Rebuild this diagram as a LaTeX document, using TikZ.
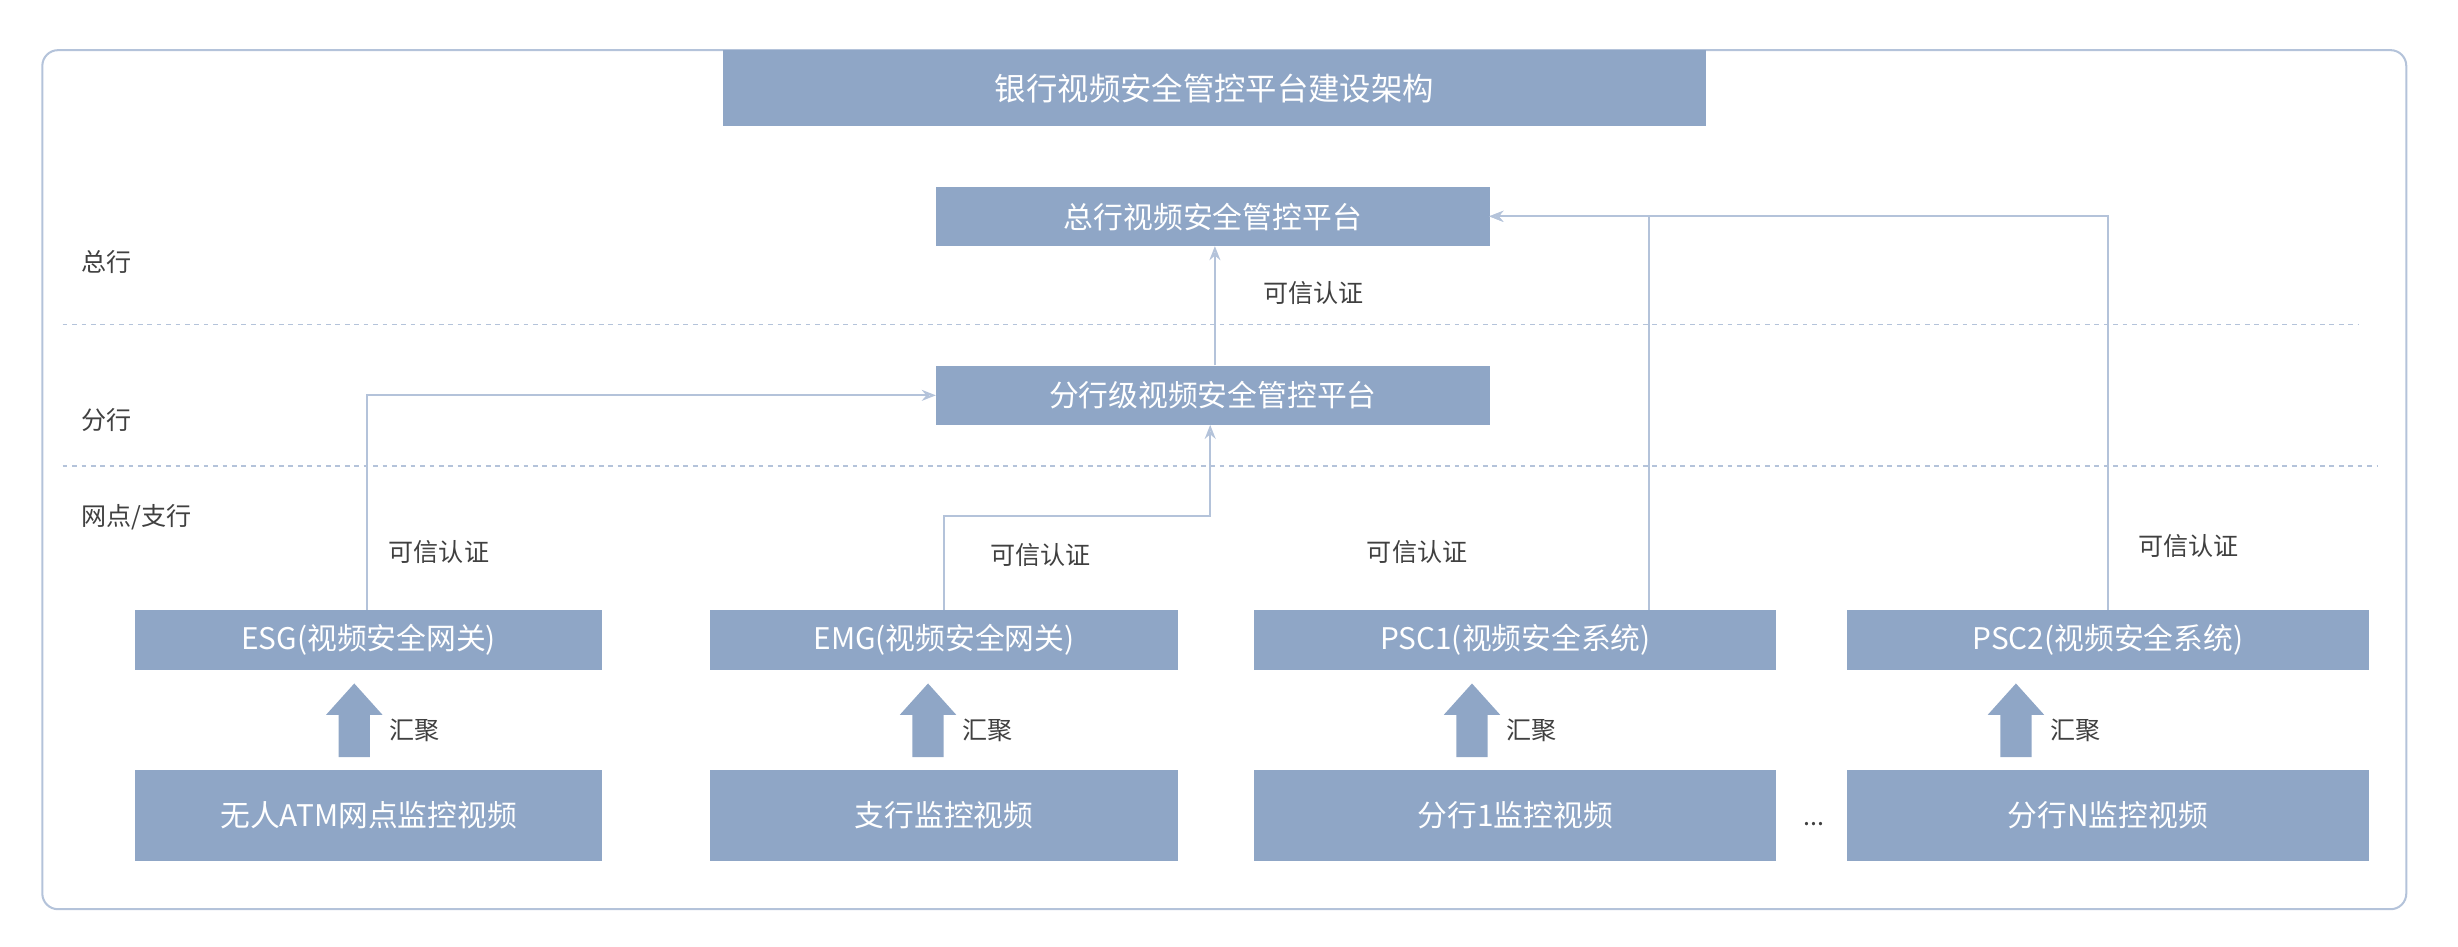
\documentclass[tikz,border=0pt]{standalone}
\usepackage{fontspec}
\setmainfont{Noto Sans CJK SC}
\usetikzlibrary{arrows.meta}
\definecolor{boxc}{HTML}{8FA6C6}
\definecolor{linec}{HTML}{B4C3DA}
\definecolor{txt}{HTML}{404040}
\tikzset{
 bx/.style={fill=boxc,draw=none,text=white,font=\fontsize{19}{19}\selectfont,inner sep=0},
 lbl/.style={text=txt,font=\fontsize{16}{16}\selectfont,inner sep=0},
 conn/.style={draw=linec,line width=1.3pt,-{Stealth[length=9pt,width=7pt,open]}},
 fat/.style={fill=boxc,draw=none}
}
\newcommand{\bxat}[4]{\node[bx,minimum width=#3,minimum height=#4,anchor=north west] (#1) at (#2) {};}
\begin{document}
\begin{tikzpicture}[x=1pt,y=-1pt]
\useasboundingbox (0,0) rectangle (1568,604);
\draw[linec,line width=1.3pt,rounded corners=10pt] (27,32) rectangle (1535,580);
\node[bx,minimum width=627,minimum height=48,anchor=north west,font=\fontsize{20}{20}\selectfont] (title) at (461,32) {银行视频安全管控平台建设架构};
\node[bx,minimum width=353,minimum height=38,anchor=north west] (hq) at (597,119) {总行视频安全管控平台};
\node[bx,minimum width=353,minimum height=38,anchor=north west] (br) at (597,233) {分行级视频安全管控平台};
\draw[linec,line width=1.2pt,dashed] (40,207) -- (1505,207);
\draw[linec,line width=1.2pt,dashed] (40,297) -- (1517,297);
\node[lbl,anchor=west] (l1) at (52,167) {总行};
\node[lbl,anchor=west] (l2) at (52,268) {分行};
\node[lbl,anchor=west] (l3) at (52,330) {网点/支行};
\node[bx,minimum width=298,minimum height=38,anchor=north west] (esg) at (86,389) {ESG(视频安全网关)};
\node[bx,minimum width=298,minimum height=38,anchor=north west] (emg) at (453,389) {EMG(视频安全网关)};
\node[bx,minimum width=333,minimum height=38,anchor=north west] (psc1) at (800,389) {PSC1(视频安全系统)};
\node[bx,minimum width=333,minimum height=38,anchor=north west] (psc2) at (1178,389) {PSC2(视频安全系统)};
\node[bx,minimum width=298,minimum height=58,anchor=north west] (s1) at (86,491) {无人ATM网点监控视频};
\node[bx,minimum width=298,minimum height=58,anchor=north west] (s2) at (453,491) {支行监控视频};
\node[bx,minimum width=333,minimum height=58,anchor=north west] (s3) at (800,491) {分行1监控视频};
\node[bx,minimum width=333,minimum height=58,anchor=north west] (s4) at (1178,491) {分行N监控视频};
\node[lbl] (dots) at (1157,526) {...};
\foreach \x/\n in {226/a,592/b,939/c,1286/d}{
 \fill[fat] (\x-10,483) -- (\x-10,456) -- (\x-18,456) -- (\x,436) -- (\x+18,456) -- (\x+10,456) -- (\x+10,483) -- cycle;
 \node[lbl,anchor=west] (hj\n) at (\x+22,466) {汇聚};
}
\coordinate (esgt) at (234,389);
\coordinate (emgt) at (602,389);
\coordinate (p1t) at (1052,389);
\coordinate (p2t) at (1345,389);
\draw[conn] (esgt) |- (br.west);
\draw[conn] (emgt) -- (602,329) -- (772,329) -- (772,271);
\draw[conn] (775,233) -- (775,157);
\draw[conn] (p1t) |- (950,138);
\draw[conn] (p2t) |- (950,138);
\node[lbl] (k0) at (838,187) {可信认证};
\node[lbl] (k1) at (280,352) {可信认证};
\node[lbl] (k2) at (664,354) {可信认证};
\node[lbl] (k3) at (904,352) {可信认证};
\node[lbl] (k4) at (1396,348) {可信认证};
\end{tikzpicture}
\end{document}
